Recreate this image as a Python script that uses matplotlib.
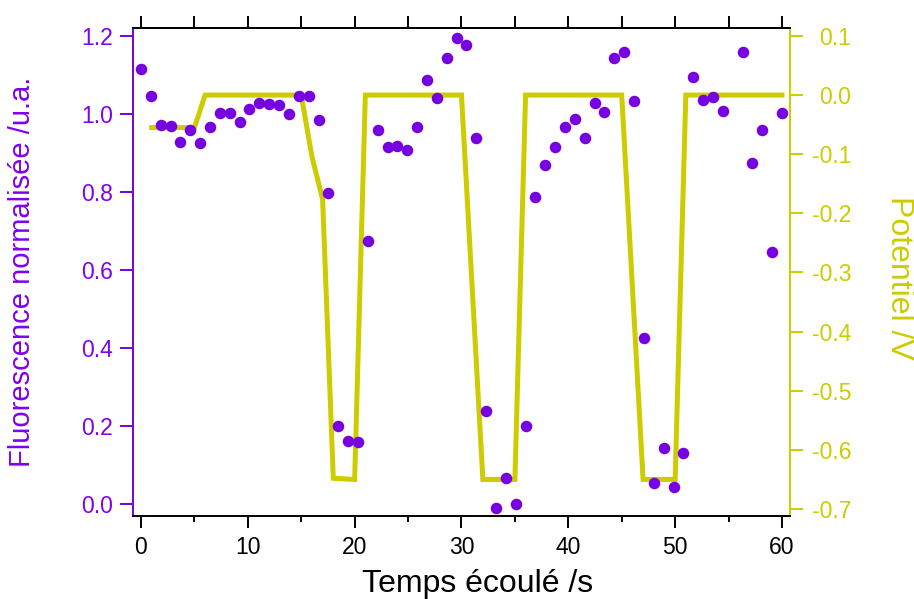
import numpy as np
import matplotlib
matplotlib.use('Agg')
import matplotlib.pyplot as plt

plt.rcParams['font.family'] = ['Liberation Sans', 'DejaVu Sans']
plt.rcParams['axes.unicode_minus'] = False

# fluorescence, one point per frame (frame 60 missing)
temps = [0.00, 0.92, 1.85, 2.77, 3.69, 4.62, 5.54, 6.46, 7.38, 8.31,
         9.23, 10.15, 11.08, 12.00, 12.92, 13.85, 14.77, 15.69, 16.62, 17.54,
         18.46, 19.38, 20.31, 21.23, 22.15, 23.08, 24.00, 24.92, 25.85, 26.77,
         27.69, 28.62, 29.54, 30.46, 31.38, 32.31, 33.23, 34.15, 35.08, 36.00,
         36.92, 37.85, 38.77, 39.69, 40.62, 41.54, 42.46, 43.38, 44.31, 45.23,
         46.15, 47.08, 48.00, 48.92, 49.85, 50.77, 51.69, 52.62, 53.54, 54.46,
         55.38, 56.31, 57.23, 58.15, 59.08, 60.00]
fluo = [1.115, 1.045, 0.971, 0.968, 0.929, 0.959, 0.926, 0.967, 1.002, 1.002,
        0.979, 1.013, 1.027, 1.026, 1.022, 1.000, 1.046, 1.046, 0.985, 0.798,
        0.201, 0.161, 0.158, 0.675, 0.958, 0.916, 0.919, 0.907, 0.967, 1.087,
        1.042, 1.144, 1.194, 1.176, 0.939, 0.238, -0.011, 0.066, -0.001, 0.199,
        0.788, 0.869, 0.916, 0.967, 0.988, 0.938, 1.027, 1.004, 1.144, 1.160,
        1.033, 0.426, 0.053, 0.144, 0.044, 0.131, 1.094, 1.036, 1.044, 1.008,
        np.nan, 1.160, 0.874, 0.958, 0.646, 1.003]

# applied potential
temps_pot = [1, 5, 6, 15, 16, 17, 18, 20, 21, 30, 32, 35, 36, 45, 47, 50, 51, 60]
potentiel = [-0.055, -0.055, 0.0, 0.0, -0.104, -0.176, -0.648, -0.650, 0.0,
             0.0, -0.650, -0.650, 0.0, 0.0, -0.650, -0.650, 0.0, 0.0]

violet = '#7700E0'
violet_txt = '#8000F0'
jaune = '#CCCC00'
jaune_txt = '#CCCC00'

fig = plt.figure(figsize=(9.14, 5.99), dpi=100)
ax1 = fig.add_axes([0.1455, 0.1386, 0.7188, 0.8147])
ax2 = ax1.twinx()

# line behind the dots
ax1.set_zorder(ax2.get_zorder() + 1)
ax1.patch.set_visible(False)

ax2.plot(temps_pot, potentiel, color=jaune, lw=3.6, solid_joinstyle='miter')
ax1.plot(temps, fluo, 'o', ms=8.3, color=violet, mec='none')

ax1.set_xlim(-0.75, 60.75)
ax1.set_ylim(-0.031, 1.2205)
ax2.set_ylim(-0.7118, 0.1135)

# spines
for sp in ax1.spines.values():
    sp.set_linewidth(1.4)
for sp in ax2.spines.values():
    sp.set_linewidth(1.4)
ax1.spines['left'].set_color(violet)
ax1.spines['right'].set_visible(False)
ax2.spines['left'].set_visible(False)
ax2.spines['top'].set_visible(False)
ax2.spines['bottom'].set_visible(False)
ax2.spines['right'].set_color(jaune)

# x axis
ax1.set_xticks(np.arange(0, 61, 10))
ax1.set_xticks(np.arange(0, 61, 5), minor=True)
ax1.tick_params(axis='x', which='major', direction='out', length=8.6, width=1.4,
                labelsize=16.5, pad=6)
ax1.tick_params(axis='x', which='minor', direction='out', length=4.3, width=1.4)
ax1.tick_params(axis='x', which='both', top=False)

sec = ax1.secondary_xaxis('top')
sec.set_xticks(np.arange(0, 61, 5))
sec.tick_params(direction='out', length=9, width=1.4, labeltop=False)
sec.spines['top'].set_linewidth(1.4)

# left axis
ax1.set_yticks(np.arange(0, 1.21, 0.2))
ax1.set_yticklabels(['%.1f' % v for v in np.arange(0, 1.21, 0.2)])
ax1.tick_params(axis='y', direction='out', length=9.2, width=1.4, color=violet,
                labelcolor=violet_txt, labelsize=16.5, pad=5)

# right axis
yt = np.round(np.arange(-0.7, 0.11, 0.1), 1)
ax2.set_yticks(yt)
ax2.set_yticklabels(['%.1f' % (v + 0.0) for v in yt])
ax2.tick_params(axis='y', direction='out', length=9.2, width=1.4, color=jaune,
                labelcolor=jaune_txt, labelsize=16.5, pad=35)
for lab in ax2.get_yticklabels():
    lab.set_horizontalalignment('right')

ax1.set_xlabel('Temps écoulé /s', fontsize=23)
ax1.xaxis.set_label_coords(0.524, -0.108)
ax1.set_ylabel('Fluorescence normalisée /u.a.', fontsize=21, color=violet_txt)
ax1.yaxis.set_label_coords(-0.148, 0.5)
ax2.set_ylabel('Potentiel /V', fontsize=23, color=jaune_txt, rotation=-90,
               va='bottom')
ax2.yaxis.set_label_coords(1.143, 0.487)

plt.savefig('out.png', dpi=100)
